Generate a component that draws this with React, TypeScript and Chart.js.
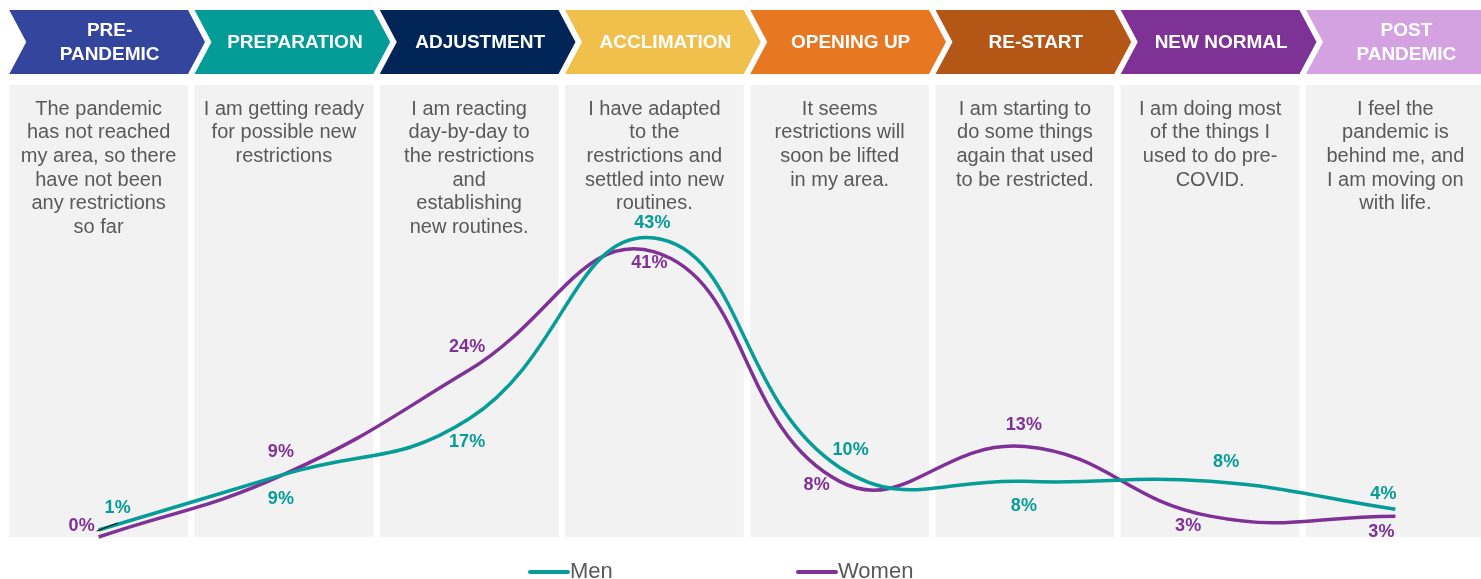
import React, { useEffect, useRef } from 'react';
import { Chart, registerables } from 'chart.js';

Chart.register(...registerables);

// ---------- data ----------
const stageNames = ['PRE-PANDEMIC', 'PREPARATION', 'ADJUSTMENT', 'ACCLIMATION', 'OPENING UP', 'RE-START', 'NEW NORMAL', 'POST PANDEMIC'];
const stageHeaderLines = [
  ['PRE-', 'PANDEMIC'],
  ['PREPARATION'],
  ['ADJUSTMENT'],
  ['ACCLIMATION'],
  ['OPENING UP'],
  ['RE-START'],
  ['NEW NORMAL'],
  ['POST', 'PANDEMIC'],
];
const stageColors = ['#33459C', '#039C97', '#012556', '#F1BF4B', '#E87722', '#B45616', '#7F3296', '#D4A2E1'];
const stageDescriptions = [
  ['The pandemic', 'has not reached', 'my area, so there', 'have not been', 'any restrictions', 'so far'],
  ['I am getting ready', 'for possible new', 'restrictions'],
  ['I am reacting', 'day-by-day to', 'the restrictions', 'and', 'establishing', 'new routines.'],
  ['I have adapted', 'to the', 'restrictions and', 'settled into new', 'routines.'],
  ['It seems', 'restrictions will', 'soon be lifted', 'in my area.'],
  ['I am starting to', 'do some things', 'again that used', 'to be restricted.'],
  ['I am doing most', 'of the things I', 'used to do pre-', 'COVID.'],
  ['I feel the', 'pandemic is', 'behind me, and', 'I am moving on', 'with life.'],
];
const menValues = [1, 9, 17, 43, 10, 8, 8, 4];
const womenValues = [0, 9, 24, 41, 8, 13, 3, 3];
const seriesNames = ['Men', 'Women'];
const seriesColors = ['#069C98', '#7F3197'];
const yMin = 0;
const yMax = 65;

// label offsets (pixels, relative to point)
const menLabelOffsets = [[19, -22], [-3, 25], [-2, 23], [-2, -15], [11, -17], [-1, 25], [16, -19], [-12, -15]];
const womenLabelOffsets = [[-17, -11], [-3, -22], [-2, -23], [-5, 11], [-23, 4], [-1, -22], [-22, 10], [-14, 16]];

const FONT = '"Liberation Sans", Arial, Helvetica, sans-serif';

const decorPlugin = {
  id: 'decor',
  beforeDatasetsDraw(chart: any) {
    const { ctx, chartArea } = chart;
    const xs = chart.scales.x;
    const n = stageNames.length;
    const catW = xs.width / n;
    const pw = catW - 6.5;
    ctx.save();
    for (let i = 0; i < n; i++) {
      const cx = xs.getPixelForValue(i);
      const L = cx - pw / 2;
      const R = L + pw;
      // panel
      ctx.fillStyle = '#F2F2F2';
      ctx.fillRect(L, chartArea.top, pw, chartArea.bottom - chartArea.top);
      // description
      ctx.fillStyle = '#595959';
      ctx.font = `20px ${FONT}`;
      ctx.textAlign = 'center';
      ctx.textBaseline = 'middle';
      stageDescriptions[i].forEach((line, k) => {
        ctx.fillText(line, cx, 109 + k * 23.7);
      });
      // chevron header
      const top = 10, bottom = 74, mid = 42, d = 17;
      ctx.beginPath();
      ctx.moveTo(L, top);
      ctx.lineTo(R, top);
      ctx.lineTo(R + d, mid);
      ctx.lineTo(R, bottom);
      ctx.lineTo(L, bottom);
      ctx.lineTo(L + d, mid);
      ctx.closePath();
      ctx.fillStyle = stageColors[i];
      ctx.fill();
      ctx.fillStyle = '#FFFFFF';
      ctx.font = `bold 19px ${FONT}`;
      const lines = stageHeaderLines[i];
      const tx = cx + 11;
      if (lines.length === 1) {
        ctx.fillText(lines[0], tx, mid + 1);
      } else {
        ctx.fillText(lines[0], tx, mid - 11);
        ctx.fillText(lines[1], tx, mid + 13);
      }
    }
    ctx.restore();
  },
  afterDatasetsDraw(chart: any) {
    const { ctx } = chart;
    const offsets = [menLabelOffsets, womenLabelOffsets];
    ctx.save();
    // leader line for first men label
    const p0 = chart.getDatasetMeta(0).data[0];
    ctx.strokeStyle = '#000000';
    ctx.lineWidth = 1;
    ctx.beginPath();
    ctx.moveTo(p0.x - 2, p0.y + 1);
    ctx.lineTo(p0.x + 19, p0.y - 7);
    ctx.stroke();

    ctx.font = `bold 18px ${FONT}`;
    ctx.textAlign = 'center';
    ctx.textBaseline = 'middle';
    chart.data.datasets.forEach((ds: any, di: number) => {
      const meta = chart.getDatasetMeta(di);
      ctx.fillStyle = ds.borderColor;
      meta.data.forEach((pt: any, i: number) => {
        const [dx, dy] = offsets[di][i];
        ctx.fillText(`${ds.data[i]}%`, pt.x + dx, pt.y + dy);
      });
    });

    // legend
    const legendX = [529, 797];
    const ly = 572;
    chart.data.datasets.forEach((ds: any, di: number) => {
      const x = legendX[di];
      ctx.strokeStyle = ds.borderColor;
      ctx.lineWidth = 4;
      ctx.lineCap = 'round';
      ctx.beginPath();
      ctx.moveTo(x + 1, ly);
      ctx.lineTo(x + 39, ly);
      ctx.stroke();
      ctx.fillStyle = '#595959';
      ctx.font = `22px ${FONT}`;
      ctx.textAlign = 'left';
      ctx.textBaseline = 'middle';
      ctx.fillText(ds.label, x + 41, ly);
    });
    ctx.restore();
  },
};

export default function App() {
  const canvasRef = useRef<HTMLCanvasElement | null>(null);

  useEffect(() => {
    document.body.style.margin = '0';
    const canvas = canvasRef.current;
    if (!canvas) return;
    const chart = new Chart(canvas, {
      type: 'line',
      data: {
        labels: stageNames,
        datasets: [
          {
            label: seriesNames[0],
            data: menValues,
            borderColor: seriesColors[0],
            backgroundColor: seriesColors[0],
            borderWidth: 3.5,
            tension: 0.45,
            pointRadius: 0,
            fill: false,
            clip: false as any,
          },
          {
            label: seriesNames[1],
            data: womenValues,
            borderColor: seriesColors[1],
            backgroundColor: seriesColors[1],
            borderWidth: 3.5,
            tension: 0.45,
            pointRadius: 0,
            fill: false,
            clip: false as any,
          },
        ],
      },
      options: {
        responsive: false,
        maintainAspectRatio: false,
        animation: false,
        events: [],
        layout: { padding: { left: 6, right: 12, top: 85, bottom: 42 } },
        scales: {
          x: { display: false, offset: true },
          y: { display: false, min: yMin, max: yMax },
        },
        plugins: {
          legend: { display: false },
          tooltip: { enabled: false },
        },
      },
      plugins: [decorPlugin],
    });
    return () => chart.destroy();
  }, []);

  return (
    <div style={{ width: 1481, height: 579, overflow: 'hidden', position: 'relative', background: '#FFFFFF' }}>
      <canvas ref={canvasRef} width={1500} height={579} style={{ display: 'block' }} />
    </div>
  );
}
